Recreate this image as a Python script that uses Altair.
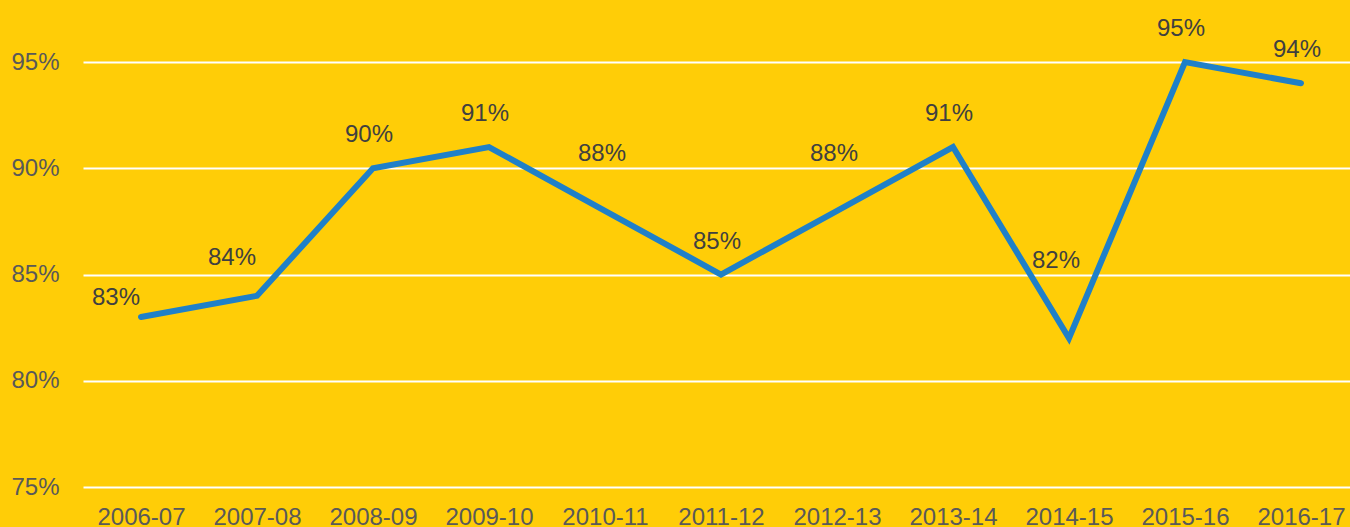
import altair as alt
import pandas as pd

years = ["2006-07", "2007-08", "2008-09", "2009-10", "2010-11", "2011-12",
         "2012-13", "2013-14", "2014-15", "2015-16", "2016-17"]
rates = [83, 84, 90, 91, 88, 85, 88, 91, 82, 95, 94]
y_ticks = [75, 80, 85, 90, 95]

df = pd.DataFrame({"year": years, "rate": rates})

BG = "#FFCD07"
LINE = "#1F80C8"
FONT = "Liberation Sans"

xscale = alt.Scale(type="point", padding=0.4612, align=0.542)
yscale = alt.Scale(domain=[75, 97.92], nice=False, zero=False)

x = alt.X("year:O", sort=years, title=None, scale=xscale,
          axis=alt.Axis(labelAngle=0, labelFontSize=24, labelColor="#595959",
                        labelFont=FONT, ticks=False, domain=False, grid=False,
                        labelPadding=18, minExtent=40, maxExtent=40))
y = alt.Y("rate:Q", title=None, scale=yscale,
          axis=alt.Axis(values=y_ticks, labelExpr="datum.value + '%'",
                        labelFontSize=24, labelColor="#595959", labelFont=FONT,
                        ticks=False, domain=False, grid=True, gridColor="white",
                        gridWidth=2, labelPadding=24, minExtent=83, maxExtent=83))

line = alt.Chart(df).mark_line(color=LINE, strokeWidth=6, strokeCap="round",
                               strokeJoin="miter").encode(x=x, y=y)

def labels(cats, dx, dy):
    return alt.Chart(df).transform_filter(
        alt.FieldOneOfPredicate(field="year", oneOf=cats)
    ).transform_calculate(
        lbl="datum.rate + '%'"
    ).mark_text(fontSize=24, font=FONT, color="#404040", align="center",
                baseline="middle", dx=dx, dy=dy).encode(
        x=alt.X("year:O", sort=years, scale=xscale),
        y=alt.Y("rate:Q", scale=yscale),
        text="lbl:N")

layers = [
    line,
    labels(["2008-09", "2009-10", "2011-12", "2013-14", "2015-16", "2016-17"], -4, -33),
    labels(["2006-07"], -25, -19),
    labels(["2007-08"], -25, -38),
    labels(["2010-11", "2012-13"], -3, -57),
    labels(["2014-15"], -13, -77),
]

chart = alt.layer(*layers).properties(
    width=1267, height=487, background=BG,
    padding={"left": 0, "top": 0, "right": 0, "bottom": 0},
).configure_view(stroke=None)

chart.save("out.html", embed_options={"renderer": "svg", "actions": False})
